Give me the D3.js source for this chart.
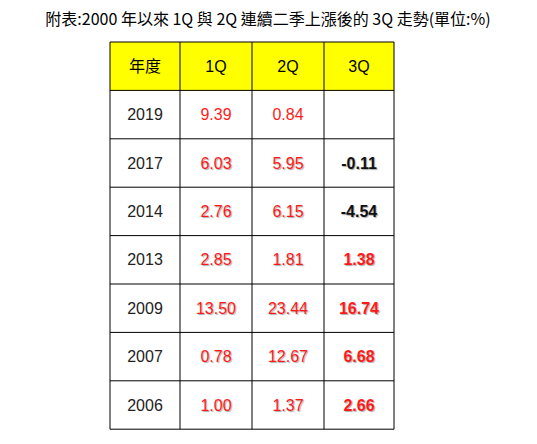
<!DOCTYPE html>
<html><head><meta charset="utf-8">
<script src="https://cdn.jsdelivr.net/npm/d3@7"></script>
<style>body{margin:0;background:#fff}svg text{font-family:Arial,"Liberation Sans",sans-serif}</style>
</head><body><div id="chart"></div>
<script>
const title = "附表:2000 年以來 1Q 與 2Q 連續二季上漲後的 3Q 走勢(單位:%)";
const headers = ["年度", "1Q", "2Q", "3Q"];
const years = ["2019", "2017", "2014", "2013", "2009", "2007", "2006"];
const q1 = ["9.39", "6.03", "2.76", "2.85", "13.50", "0.78", "1.00"];
const q2 = ["0.84", "5.95", "6.15", "1.81", "23.44", "12.67", "1.37"];
const q3 = ["", "-0.11", "-4.54", "1.38", "16.74", "6.68", "2.66"];

const svg = d3.select("#chart").append("svg").attr("width", 537).attr("height", 444);

svg.append("text").attr("x", 268).attr("y", 25).attr("text-anchor", "middle")
  .style("font-family", "'Noto Sans CJK TC'").style("font-size", "16px")
  .text(title);

const colX = [110, 180, 252, 324, 394];
const tableTop = 42, rowH = 48.4;
const y = d3.scaleLinear().domain([0, 8]).range([tableTop, tableTop + 8 * rowH]);

// header
svg.append("rect").attr("x", colX[0]).attr("y", y(0)).attr("width", colX[4] - colX[0])
  .attr("height", rowH).attr("fill", "#ffff00");
headers.forEach((h, i) => {
  svg.append("text").attr("x", (colX[i] + colX[i + 1]) / 2).attr("y", y(0.5)).attr("dy", "0.35em")
    .attr("text-anchor", "middle").style("font-size", "16px")
    .style("font-family", i === 0 ? "'Noto Sans CJK TC'" : null).text(h);
});

years.forEach((yr, r) => {
  const cells = [yr, q1[r], q2[r], q3[r]];
  cells.forEach((v, c) => {
    const neg = v.startsWith("-");
    svg.append("text").attr("x", (colX[c] + colX[c + 1]) / 2).attr("y", y(r + 1.5)).attr("dy", "0.35em")
      .attr("text-anchor", "middle").style("font-size", "16px")
      .style("font-weight", c === 3 ? "bold" : "normal")
      .style("text-shadow", r > 0 && c > 0 ? "1px 1px 1px #aaa" : null)
      .attr("fill", c === 0 ? "#222" : (neg ? "#111" : "#ff1a1a"))
      .text(v);
  });
});

// grid
d3.range(9).forEach(i => svg.append("line").attr("x1", colX[0]).attr("x2", colX[4])
  .attr("y1", y(i)).attr("y2", y(i)).attr("stroke", "#000").attr("stroke-width", 1));
colX.forEach(x => svg.append("line").attr("x1", x).attr("x2", x)
  .attr("y1", y(0)).attr("y2", y(8)).attr("stroke", "#000").attr("stroke-width", 1));
</script></body></html>
